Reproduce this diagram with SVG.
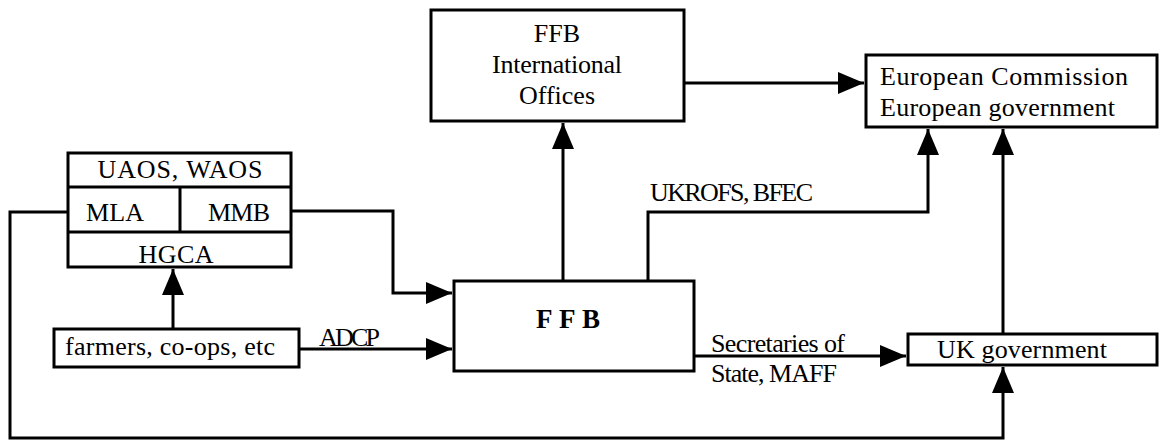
<svg xmlns="http://www.w3.org/2000/svg" width="1162" height="442" viewBox="0 0 1162 442">
<style>
.box{fill:#fff;stroke:#000;stroke-width:3}
.ln{fill:none;stroke:#000;stroke-width:3}
text{font-family:"Liberation Serif","Times New Roman",serif;font-size:26px;fill:#000}
.c{text-anchor:middle}
</style>
<defs>
<marker id="ah" markerUnits="userSpaceOnUse" markerWidth="27" markerHeight="22" refX="26" refY="11" orient="auto">
<path d="M0,0 L26,11 L0,22 z" fill="#000"/>
</marker>
</defs>
<rect width="1162" height="442" fill="#fff"/>
<g id="connectors">
<path class="ln" d="M684 83 H864" marker-end="url(#ah)"/>
<path class="ln" d="M563 281 V123" marker-end="url(#ah)"/>
<path class="ln" d="M648 281 V212 H928 V129" marker-end="url(#ah)"/>
<path class="ln" d="M1003 334 V129" marker-end="url(#ah)"/>
<path class="ln" d="M68 212 H10 V438 H1003 V367" marker-end="url(#ah)"/>
<path class="ln" d="M291 211 H393 V293 H452" marker-end="url(#ah)"/>
<path class="ln" d="M173 329 V269" marker-end="url(#ah)"/>
<path class="ln" d="M299 349 H452" marker-end="url(#ah)"/>
<path class="ln" d="M694 356 H906" marker-end="url(#ah)"/>
<text x="650" y="201" textLength="163">UKROFS, BFEC</text>
<text x="319" y="346" textLength="61">ADCP</text>
<text x="711" y="352" textLength="134">Secretaries of</text>
<text x="711" y="382" textLength="126">State, MAFF</text>
</g>
<g id="intl">
<rect class="box" x="431" y="10" width="253" height="111"/>
<text class="c" x="557" y="42">FFB</text>
<text class="c" x="557" y="73" textLength="130">International</text>
<text class="c" x="557" y="104">Offices</text>
</g>
<g id="euro">
<rect class="box" x="866" y="55" width="291" height="72"/>
<text x="880" y="85" textLength="248">European Commission</text>
<text x="880" y="116" textLength="235">European government</text>
</g>
<g id="levy">
<rect class="box" x="68" y="153" width="223" height="114"/>
<path class="ln" d="M68 187 H291 M68 232 H291 M180 187 V232"/>
<text class="c" x="180" y="178" textLength="165">UAOS, WAOS</text>
<text class="c" x="115" y="221" textLength="58">MLA</text>
<text class="c" x="239" y="221" textLength="62">MMB</text>
<text class="c" x="176" y="263" textLength="75">HGCA</text>
</g>
<g id="farmers">
<rect class="box" x="54" y="329" width="245" height="38"/>
<text x="65" y="355" textLength="210">farmers, co-ops, etc</text>
</g>
<g id="ffb">
<rect class="box" x="454" y="281" width="240" height="90"/>
<text class="c" x="568" y="328" style="font-weight:bold;font-size:27px" textLength="64">FFB</text>
</g>
<g id="ukgov">
<rect class="box" x="908" y="334" width="249" height="31"/>
<text x="937" y="358" textLength="170">UK government</text>
</g>
</svg>
